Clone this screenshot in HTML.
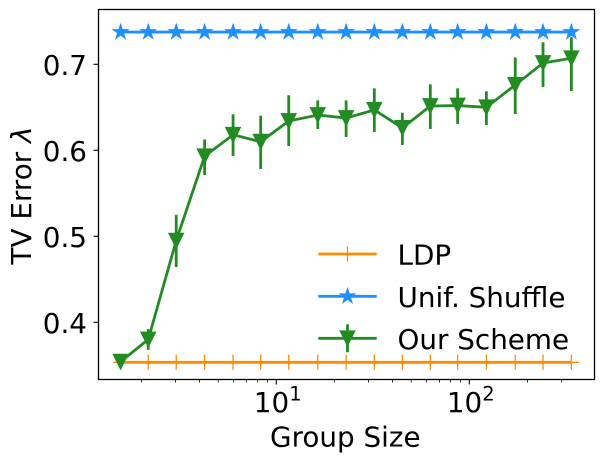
<!DOCTYPE html>
<html>
<head>
<meta charset="utf-8">
<style>
html,body{margin:0;padding:0;background:#fff;width:603px;height:462px;overflow:hidden}
svg{display:block}
text{font-family:"DejaVu Sans",sans-serif;fill:#000;font-size:27.8px}
</style>
</head>
<body>
<svg id="chart" xmlns="http://www.w3.org/2000/svg" width="603" height="462" viewBox="0 0 603 462">
<rect x="0" y="0" width="603" height="462" fill="#fff"/>
<g id="ticks"></g>
<g id="series"></g>
<rect x="98.5" y="9.5" width="496" height="370" fill="none" stroke="#000" stroke-width="1.3"/>
<g id="labels"></g>
<text x="345.3" y="446.5" text-anchor="middle">Group Size</text>
<text transform="translate(31,195.5) rotate(-90)" text-anchor="middle">TV Error <tspan font-style="italic">λ</tspan></text>
<g id="legend"></g>
</svg>
<script>
const groupSizes = [1.56, 2.17, 3.03, 4.25, 5.97, 8.3, 11.6, 16.4, 23, 32.2, 45, 62.8, 87, 122.6, 173, 241, 338];
const ldpValues = [0.3535, 0.3535, 0.3535, 0.3535, 0.3535, 0.3535, 0.3535, 0.3535, 0.3535, 0.3535, 0.3535, 0.3535, 0.3535, 0.3535, 0.3535, 0.3535, 0.3535];
const shuffleValues = [0.7375, 0.7375, 0.7375, 0.7375, 0.7375, 0.7375, 0.7375, 0.7375, 0.7375, 0.7375, 0.7375, 0.7375, 0.7375, 0.7375, 0.7375, 0.7375, 0.7375];
const schemeValues = [0.3542, 0.380, 0.495, 0.593, 0.618, 0.610, 0.634, 0.641, 0.6375, 0.647, 0.626, 0.6515, 0.652, 0.650, 0.676, 0.7015, 0.707];
const schemeUpper = [0.356, 0.392, 0.525, 0.6126, 0.6419, 0.6402, 0.664, 0.658, 0.658, 0.672, 0.6437, 0.6767, 0.672, 0.6686, 0.708, 0.7256, 0.7314];
const schemeLower = [0.352, 0.368, 0.4643, 0.5713, 0.5934, 0.5783, 0.605, 0.6248, 0.6155, 0.6213, 0.6062, 0.6248, 0.6306, 0.6294, 0.6422, 0.6736, 0.6689];
const yTickValues = [0.4, 0.5, 0.6, 0.7];
const yTickLabels = ["0.4", "0.5", "0.6", "0.7"];
const xMajorTicks = [10, 100];
const xMajorExponents = ["1", "2"];
const xMinorTicks = [2, 3, 4, 5, 6, 7, 8, 9, 20, 30, 40, 50, 60, 70, 80, 90, 200, 300];
const legendLabels = ["LDP", "Unif. Shuffle", "Our Scheme"];

const NS = "http://www.w3.org/2000/svg";
const ORANGE = "#ff8c00", BLUE = "#1e90ff", GREEN = "#228b22";
const FRAME_BOTTOM = 379.5, FRAME_LEFT = 98.5;

function xScale(v) { return 276.3 + (Math.log10(v) - 1) * 193; }
function yScale(v) { return 64.3 + (0.7 - v) * 860; }
function make(tag, attrs) {
  const el = document.createElementNS(NS, tag);
  for (const k in attrs) el.setAttribute(k, attrs[k]);
  return el;
}
function starPoints(cx, cy, R) {
  const r = R * 0.382, pts = [];
  for (let i = 0; i < 10; i++) {
    const a = -Math.PI / 2 + i * Math.PI / 5, q = i % 2 ? r : R;
    pts.push((cx + q * Math.cos(a)).toFixed(2) + "," + (cy + q * Math.sin(a)).toFixed(2));
  }
  return pts.join(" ");
}
function trianglePoints(cx, cy, h) {
  return (cx - h) + "," + (cy - h) + " " + (cx + h) + "," + (cy - h) + " " + cx + "," + (cy + h);
}
function polyline(values) {
  return values.map(function (v, i) { return xScale(groupSizes[i]).toFixed(2) + "," + yScale(v).toFixed(2); }).join(" ");
}

const ticksG = document.getElementById("ticks");
const labelsG = document.getElementById("labels");
const seriesG = document.getElementById("series");
const legendG = document.getElementById("legend");

yTickValues.forEach(function (v, i) {
  const y = yScale(v);
  const tick = make("line", { x1: FRAME_LEFT - 5, x2: FRAME_LEFT, y1: y, y2: y, stroke: "#000", "stroke-width": 1.1 });
  
  
  ticksG.appendChild(tick);
  const label = make("text", { x: 87, y: y + 10.5, "text-anchor": "end" });
  
  
  label.textContent = yTickLabels[i];
  labelsG.appendChild(label);
});

xMinorTicks.forEach(function (v) {
  const x = xScale(v);
  const tick = make("line", { x1: x, x2: x, y1: FRAME_BOTTOM, y2: FRAME_BOTTOM + 3, stroke: "#000", "stroke-width": 0.8 });
  
  
  ticksG.appendChild(tick);
});

xMajorTicks.forEach(function (v, i) {
  const x = xScale(v);
  const tick = make("line", { x1: x, x2: x, y1: FRAME_BOTTOM, y2: FRAME_BOTTOM + 5, stroke: "#000", "stroke-width": 1.1 });
  
  
  ticksG.appendChild(tick);
  const base = make("text", { x: x - 22.5, y: 412 });
  
  
  base.textContent = "10";
  labelsG.appendChild(base);
  const sup = make("text", { x: x + 13, y: 400.5, style: "font-size:19.5px" });
  
  
  sup.textContent = xMajorExponents[i];
  labelsG.appendChild(sup);
});

/* LDP series */
const ldpLine = make("polyline", { points: polyline(ldpValues), fill: "none", stroke: ORANGE, "stroke-width": 2.8 });


seriesG.appendChild(ldpLine);
ldpValues.forEach(function (v, i) {
  const x = xScale(groupSizes[i]), y = yScale(v);
  const m = make("path", { d: "M" + (x - 7.5) + " " + y + "H" + (x + 7.5) + "M" + x + " " + (y - 7.5) + "V" + (y + 7.5), stroke: ORANGE, "stroke-width": 1.3, fill: "none" });
  
  
  seriesG.appendChild(m);
});

/* Uniform shuffle series */
const shuffleLine = make("polyline", { points: polyline(shuffleValues), fill: "none", stroke: BLUE, "stroke-width": 2.8 });


seriesG.appendChild(shuffleLine);
shuffleValues.forEach(function (v, i) {
  const m = make("polygon", { points: starPoints(xScale(groupSizes[i]), yScale(v), 7.5), fill: BLUE, stroke: BLUE, "stroke-width": 1.2 });
  
  
  seriesG.appendChild(m);
});

/* Our scheme series */
const schemeLine = make("polyline", { points: polyline(schemeValues), fill: "none", stroke: GREEN, "stroke-width": 2.8 });


seriesG.appendChild(schemeLine);
schemeValues.forEach(function (v, i) {
  const x = xScale(groupSizes[i]);
  const bar = make("line", { x1: x, x2: x, y1: yScale(schemeUpper[i]), y2: yScale(schemeLower[i]), stroke: GREEN, "stroke-width": 2.8 });
  
  
  seriesG.appendChild(bar);
  const m = make("polygon", { points: trianglePoints(x, yScale(v), 7.3), fill: GREEN, stroke: GREEN, "stroke-width": 1.2 });
  
  
  seriesG.appendChild(m);
});

/* Legend */
const legendRows = [254, 296.3, 338.3];
legendLabels.forEach(function (name, i) {
  const y = legendRows[i];
  const row = make("g", {});
  
  
  const colour = [ORANGE, BLUE, GREEN][i];
  row.appendChild(make("line", { x1: 318.3, x2: 376.7, y1: y, y2: y, stroke: colour, "stroke-width": 2.8 }));
  if (i === 0) {
    row.appendChild(make("path", { d: "M347.5 " + (y - 7.5) + "V" + (y + 7.5), stroke: colour, "stroke-width": 1.3, fill: "none" }));
  } else if (i === 1) {
    row.appendChild(make("polygon", { points: starPoints(347.5, y, 7.5), fill: colour, stroke: colour, "stroke-width": 1.2 }));
  } else {
    row.appendChild(make("line", { x1: 347.5, x2: 347.5, y1: y - 14, y2: y + 14, stroke: colour, "stroke-width": 2.8 }));
    row.appendChild(make("polygon", { points: trianglePoints(347.5, y, 7.3), fill: colour, stroke: colour, "stroke-width": 1.2 }));
  }
  const t = make("text", { x: 397.5, y: y + 10.5 });
  t.textContent = name;
  row.appendChild(t);
  legendG.appendChild(row);
});
</script>
</body>
</html>
